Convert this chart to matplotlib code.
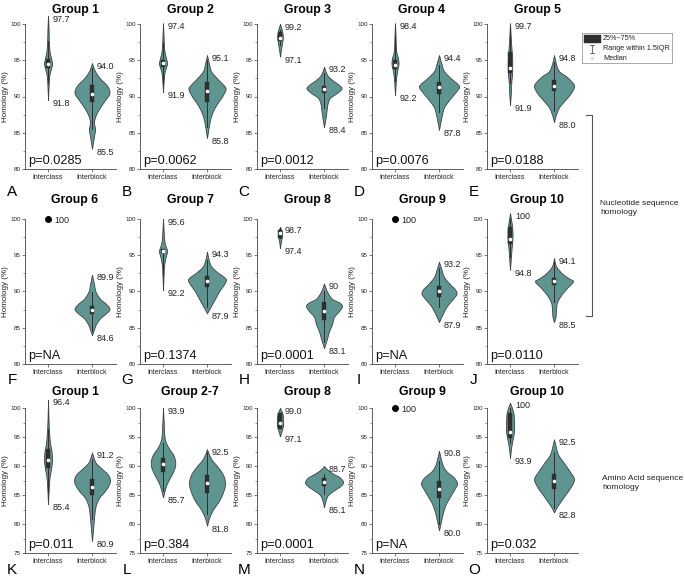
import numpy as np
import matplotlib
matplotlib.use('Agg')
import matplotlib.pyplot as plt
from matplotlib.patches import Rectangle

plt.rcParams['font.family'] = ['Liberation Sans', 'DejaVu Sans']

# ---------------- data ----------------
titles = ['Group 1', 'Group 2', 'Group 3', 'Group 4', 'Group 5',
          'Group 6', 'Group 7', 'Group 8', 'Group 9', 'Group 10',
          'Group 1', 'Group 2-7', 'Group 8', 'Group 9', 'Group 10']
letters = list('ABCDEFGHIJKLMNO')
p_values = ['p=0.0285', 'p=0.0062', 'p=0.0012', 'p=0.0076', 'p=0.0188',
            'p=NA', 'p=0.1374', 'p=0.0001', 'p=NA', 'p=0.0110',
            'p=0.011', 'p=0.384', 'p=0.0001', 'p=NA', 'p=0.032']
categories = ['Interclass', 'Interblock']

# Interclass violin profiles (homology value, relative density width); None = single point
inter_y = [
    [89.5, 91.5, 92.8, 93.8, 94.5, 95.3, 96.2, 97.5, 99.5, 101.1],
    [90.6, 92.0, 93.3, 94.0, 94.6, 95.3, 96.2, 97.5, 100.1],
    [95.5, 96.5, 97.3, 98.2, 98.9, 99.5, 100.0],
    [90.2, 92.0, 93.0, 93.8, 94.5, 95.3, 96.0, 97.0, 98.5, 100.1],
    [88.8, 90.5, 92.0, 93.0, 94.0, 95.0, 96.0, 97.5, 100.1],
    None,
    [90.2, 92.0, 93.5, 94.7, 95.6, 96.5, 97.5, 100.0],
    [96.0, 96.8, 97.5, 98.2, 98.9],
    None,
    [93.0, 94.5, 95.8, 96.8, 97.8, 98.8, 99.8, 100.8],
    [83.4, 86.0, 88.0, 89.5, 91.0, 92.5, 94.0, 96.0, 98.0, 101.4],
    [84.6, 86.0, 87.0, 88.0, 89.0, 90.0, 91.0, 92.0, 93.0, 94.0, 95.0, 97.0, 100.0],
    [95.1, 96.0, 97.0, 98.0, 99.0, 100.0],
    None,
    [91.4, 93.0, 94.5, 96.0, 97.5, 99.0, 100.0, 100.9],
]
inter_w = [
    [0, 0.6, 1.2, 2.8, 4, 3, 1.6, 0.9, 0.5, 0],
    [0, 0.6, 1.5, 3, 4, 3, 1.5, 0.8, 0],
    [0, 1, 2, 2.8, 2.2, 1.2, 0],
    [0, 0.8, 1.5, 2.5, 3.5, 3, 1.5, 0.8, 0.5, 0],
    [0, 0.8, 1.3, 2, 2.2, 2.2, 1.8, 1, 0],
    None,
    [0, 0.5, 1, 2.5, 4, 2, 1, 0],
    [0, 0.8, 1.8, 2, 0],
    None,
    [0, 0.8, 1.5, 2.2, 2.5, 2.2, 1.2, 0],
    [0, 0.7, 1.5, 3, 4, 3.5, 2, 1, 0.5, 0],
    [0, 2, 4, 7, 10, 12, 12, 10, 6, 3, 1.5, 0.8, 0],
    [0, 1.5, 3, 3, 2.5, 0],
    None,
    [0, 1, 2.5, 4, 4, 3.5, 2, 0],
]
inter_point = [None, None, None, None, None, 100, None, None, 100, None,
               None, None, None, 100, None]

# Interblock violin profiles
block_y = [
    [82.8, 84.5, 85.5, 86.5, 87.5, 88.5, 89.5, 90.5, 91.5, 92.5, 93.5, 94.6],
    [84.3, 86.0, 87.0, 88.0, 89.0, 90.0, 91.0, 91.5, 92.5, 93.5, 94.5, 95.7],
    [85.8, 87.0, 88.0, 89.0, 89.8, 90.5, 91.1, 91.6, 92.3, 93.0, 94.1],
    [85.4, 86.5, 87.5, 88.5, 89.5, 90.5, 91.3, 91.8, 92.5, 93.5, 94.5, 95.7],
    [86.5, 87.5, 88.5, 89.5, 90.5, 91.4, 92.0, 92.8, 93.5, 94.5, 95.7],
    [84.0, 84.8, 85.5, 86.3, 87.0, 87.6, 88.3, 89.0, 90.0, 91.0, 92.3],
    [87.0, 88.0, 89.0, 90.0, 91.0, 91.6, 92.0, 92.7, 93.5, 94.5, 95.5],
    [82.2, 83.5, 84.5, 85.5, 86.5, 87.3, 88.0, 88.5, 89.0, 90.0, 91.1],
    [85.8, 87.0, 88.0, 89.0, 89.7, 90.3, 91.0, 92.0, 93.0, 94.1],
    [85.8, 86.5, 87.5, 88.5, 89.5, 90.5, 91.4, 91.8, 92.5, 93.5, 94.6],
    [77.1, 79.0, 81.0, 83.0, 84.5, 85.5, 86.5, 87.5, 88.5, 89.5, 90.5, 91.5, 92.3],
    [79.7, 81.0, 82.5, 84.0, 85.5, 87.0, 88.5, 90.0, 91.0, 92.0, 92.9],
    [82.9, 84.0, 85.0, 85.8, 86.5, 87.2, 88.0, 88.8, 89.5, 90.0],
    [78.9, 80.5, 82.0, 83.5, 85.0, 86.2, 87.0, 88.0, 89.0, 90.0, 91.5, 92.6],
    [82.0, 83.0, 84.0, 85.0, 86.2, 87.7, 89.0, 90.5, 92.0, 93.5, 94.6],
]
block_w = [
    [0, 2, 3, 2, 4, 8, 13, 17.5, 15, 8, 3, 0],
    [0, 2, 3.5, 6, 10, 15, 18.5, 17, 10, 4, 2, 0],
    [0, 1.5, 2.5, 3.5, 6, 13, 17.5, 15, 8, 3, 0],
    [0, 1.5, 3, 5, 10, 16, 20, 18, 12, 5, 2.5, 0],
    [0, 2, 5, 11, 17, 20, 18, 12, 5, 2, 0],
    [0, 2, 4, 8, 14, 17.5, 14, 8, 3.5, 2, 0],
    [0, 4, 8, 12, 17, 19, 17, 10, 4, 1.5, 0],
    [0, 3, 5, 8, 10, 15, 18, 15, 8, 3, 0],
    [0, 4, 8, 14, 17.5, 16, 11, 5, 2.5, 0],
    [0, 1.5, 2, 3, 7, 13, 19, 15, 8, 2, 0],
    [0, 1, 2, 3.5, 7, 12, 16, 18, 16, 10, 4, 1.5, 0],
    [0, 2, 6, 12, 16, 18, 16, 10, 5, 2, 0],
    [0, 1.5, 4, 10, 16, 19, 16, 8, 2.5, 0],
    [0, 2, 4, 7, 12, 16, 18, 15, 8, 4, 1.5, 0],
    [0, 3, 7, 11, 16, 20, 16, 10, 4, 1.5, 0],
]

# Boxes: (q1, median, q3)
inter_box = [(94.0, 94.5, 95.2), (94.1, 94.6, 95.0), (97.7, 98.1, 98.9), (93.8, 94.3, 95.0),
             (93.3, 93.9, 96.2), None, (95.3, 95.6, 95.9), (97.4, 98.0, 98.5), None,
             (96.6, 97.3, 98.9), (89.7, 91.1, 92.9), (89.0, 90.3, 91.4), (96.3, 97.4, 99.1),
             None, (94.9, 95.8, 99.1)]
block_box = [(89.2, 90.4, 91.6), (89.3, 90.8, 92.0), (90.5, 91.1, 91.5), (90.4, 91.3, 92.0),
             (90.8, 91.5, 92.3), (86.9, 87.4, 88.0), (90.6, 91.4, 92.2), (86.0, 87.3, 88.5),
             (89.3, 90.0, 90.8), (90.9, 91.4, 91.9), (85.0, 86.3, 87.7), (85.3, 87.0, 88.4),
             (86.5, 87.2, 88.0), (84.4, 86.1, 87.4), (86.0, 87.4, 88.7)]

inter_hi = ['97.7', '97.4', '99.2', '98.4', '99.7', '100', '95.6', '98.7', '100', '100',
            '96.4', '93.9', '99.0', '100', '100']
inter_lo = ['91.8', '91.9', '97.1', '92.2', '91.9', None, '92.2', '97.4', None, '94.8',
            '85.4', '85.7', '97.1', None, '93.9']
block_hi = ['94.0', '95.1', '93.2', '94.4', '94.8', '89.9', '94.3', '90', '93.2', '94.1',
            '91.2', '92.5', '88.7', '90.8', '92.5']
block_lo = ['85.5', '85.8', '88.4', '87.8', '88.0', '84.6', '87.9', '83.1', '87.9', '88.5',
            '80.9', '81.8', '85.1', '80.0', '82.8']

# ---------------- style / layout ----------------
W, H = 685, 576
VIOLIN = '#5f9591'
EDGE = '#404040'
BOXC = '#2e2e2e'
PX_PER_UNIT = 44.0
col_left = [25, 140, 257, 372, 487]
ax_w = 91
rows = [(24, 169), (219, 364), (408, 553)]
title_y = [10, 200, 392]
letter_y = [192, 380, 570]


def smooth(y, w, n=14):
    P = np.column_stack([y, w]).astype(float)
    P = np.vstack([P[0], P, P[-1]])
    out = []
    t = np.linspace(0, 1, n, endpoint=False)[:, None]
    for i in range(1, len(P) - 2):
        p0, p1, p2, p3 = P[i - 1], P[i], P[i + 1], P[i + 2]
        out.append(0.5 * ((2 * p1) + (-p0 + p2) * t + (2 * p0 - 5 * p1 + 4 * p2 - p3) * t ** 2
                          + (-p0 + 3 * p1 - 3 * p2 + p3) * t ** 3))
    out.append(P[-2][None])
    S = np.vstack(out)
    S[:, 1] = np.clip(S[:, 1], 0, None)
    return S[:, 0], S[:, 1]


def draw_violin(ax, x, ys, ws, box, lo, hi):
    yy, ww = smooth(ys, ws)
    half = ww / PX_PER_UNIT
    ax.fill_betweenx(yy, x - half, x + half, facecolor=VIOLIN, edgecolor=EDGE,
                     linewidth=0.6, clip_on=False, zorder=2)
    if lo is not None and hi is not None:
        ax.plot([x, x], [float(lo), float(hi)], color=BOXC, lw=0.7, zorder=3, clip_on=False)
    q1, med, q3 = box
    bw = 0.09
    ax.add_patch(Rectangle((x - bw / 2, q1), bw, q3 - q1, facecolor=BOXC,
                           edgecolor=BOXC, lw=0.3, zorder=4, clip_on=False))
    ax.plot([x], [med], marker='o', ms=1.6, color='white', mec='white', zorder=5, clip_on=False)
    top, bot = ys[-1], ys[0]
    if hi is not None:
        ax.annotate(hi, (x, top), xytext=(3.5, -2.2), textcoords='offset points',
                    ha='left', va='center', fontsize=6.5, color='#222222', annotation_clip=False)
    if lo is not None:
        ax.annotate(lo, (x, bot), xytext=(3.5, -2.5), textcoords='offset points',
                    ha='left', va='center', fontsize=6.5, color='#222222', annotation_clip=False)


fig = plt.figure(figsize=(W / 100, H / 100), dpi=100)

for i in range(15):
    r, c = divmod(i, 5)
    top, bot = rows[r]
    left = col_left[c]
    ax = fig.add_axes([left / W, 1 - bot / H, ax_w / W, (bot - top) / H])
    ymin = 80 if r < 2 else 75
    ax.set_ylim(ymin, 100)
    ax.set_xlim(0.477, 0.477 + ax_w / PX_PER_UNIT)
    ax.set_yticks(np.arange(ymin, 100.1, 5))
    ax.set_yticks(np.arange(ymin, 100.1, 2.5), minor=True)
    ax.set_xticks([1, 2])
    ax.set_xticklabels(categories)
    for s in ['top', 'right']:
        ax.spines[s].set_visible(False)
    for s in ['left', 'bottom']:
        ax.spines[s].set_linewidth(0.6)
        ax.spines[s].set_color('#444444')
    ax.tick_params(axis='y', which='major', length=2.2, width=0.5, labelsize=4.5, pad=1,
                   colors='#444444')
    ax.tick_params(axis='y', which='minor', length=1.2, width=0.4, colors='#444444')
    ax.tick_params(axis='x', length=2.2, width=0.5, labelsize=5, pad=1.5, colors='#444444')
    for lab in ax.get_xticklabels() + ax.get_yticklabels():
        lab.set_color('#222222')
    ax.set_ylabel('Homology (%)', fontsize=5.8, labelpad=0.5, color='#222222')

    # interclass
    if inter_y[i] is None:
        ax.plot([1], [inter_point[i]], 'o', color='black', ms=4, clip_on=False, zorder=5)
        ax.annotate(inter_hi[i], (1, inter_point[i]), xytext=(4.5, -1), textcoords='offset points',
                    ha='left', va='center', fontsize=6.5, color='#222222', annotation_clip=False)
    else:
        draw_violin(ax, 1, inter_y[i], inter_w[i], inter_box[i], inter_lo[i], inter_hi[i])
    # interblock
    draw_violin(ax, 2, block_y[i], block_w[i], block_box[i], block_lo[i], block_hi[i])

    ax.text(0.03, 0.015, p_values[i], transform=ax.transAxes, ha='left', va='bottom',
            fontsize=9.2, color='#111111')

    fig.text((left + 50) / W, 1 - title_y[r] / H, titles[i], ha='center', va='center',
             fontsize=8.8, fontweight='bold')
    fig.text((left - 13) / W, 1 - letter_y[r] / H, letters[i], ha='center', va='center',
             fontsize=11)

# legend
lg = fig.add_axes([582 / W, 1 - 63 / H, 90 / W, 30 / H])
lg.set_xlim(582, 672)
lg.set_ylim(63, 33)
lg.set_xticks([])
lg.set_yticks([])
for s in lg.spines.values():
    s.set_linewidth(0.5)
    s.set_color('#888888')
lg.add_patch(Rectangle((583.5, 34.5), 17, 8, facecolor=BOXC, edgecolor=BOXC, lw=0.3))
lg.plot([592, 592], [44.5, 52.5], color='#555555', lw=0.6)
lg.plot([590, 594], [44.5, 44.5], color='#555555', lw=0.6)
lg.plot([590, 594], [52.5, 52.5], color='#555555', lw=0.6)
lg.plot([592], [58], 'o', ms=1.5, color='#dddddd')
for yy, tx in zip([38.5, 48.5, 58], ['25%~75%', 'Range within 1.5IQR', 'Median']):
    lg.text(603, yy, tx, fontsize=5.2, va='center', ha='left', color='#222222')

# bracket and group annotations
br = fig.add_axes([0, 0, 1, 1], facecolor='none')
br.set_xlim(0, W)
br.set_ylim(H, 0)
br.axis('off')
br.plot([586, 592, 592, 586], [115, 115, 316, 316], color='#555555', lw=0.8)
br.text(600, 208, 'Nucleotide sequence\nhomology', fontsize=6, va='center', ha='left',
        color='#222222', linespacing=1.3)
br.text(602, 483, 'Amino Acid sequence\nhomology', fontsize=6, va='center', ha='left',
        color='#222222', linespacing=1.3)

fig.savefig('out.png', dpi=100)
